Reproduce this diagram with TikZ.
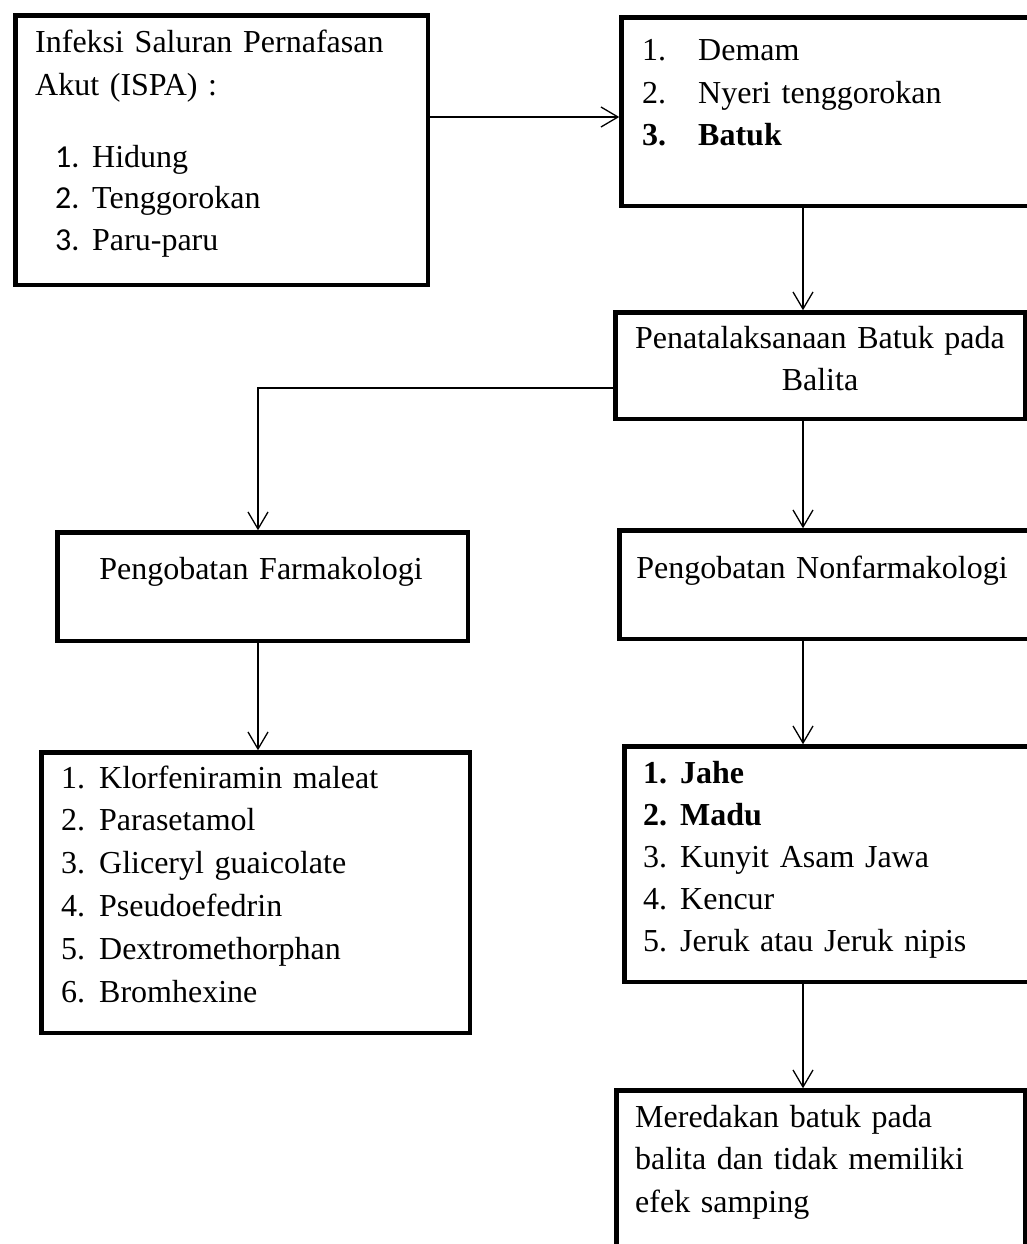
\documentclass[tikz,border=0pt]{standalone}
\usepackage{fontspec}
\setmainfont{Liberation Serif}
\newfontfamily\calibri{Carlito}
\usetikzlibrary{arrows.meta}

\tikzset{
	kotak/.style={draw, line width=4.5pt, anchor=north west, inner sep=0pt},
	teks/.style={inner sep=0pt, anchor=base west, text width=#1, align=left},
	teks/.default=380pt,
	tengah/.style={inner sep=0pt, anchor=base, text width=400pt, align=center},
	panah/.style={line width=1.3pt, -{Straight Barb[length=17pt,width=20pt,line width=1.3pt]}}
}

\begin{document}
\begin{tikzpicture}[x=1pt, y=-1pt, font=\fontsize{32pt}{42.5pt}\selectfont]
	\useasboundingbox (0,0) rectangle (1027,1244);
	\clip (0,0) rectangle (1027,1244);

%	titik bantu untuk garis panah
	\coordinate (p1) at (0,117);
	\coordinate (p2) at (803,0);
	\coordinate (p3) at (258,388);

%	kotak
	\node[kotak, minimum width=412.5pt, minimum height=269.5pt] (ispa) at (13.25,13.25) {};
	\node[kotak, minimum width=440pt, minimum height=188.5pt] (gejala) at (619.25,15.25) {};
	\node[kotak, minimum width=409.5pt, minimum height=106.5pt] (tata) at (613.25,310.25) {};
	\node[kotak, minimum width=410.5pt, minimum height=108.5pt] (farmako) at (55.25,530.25) {};
	\node[kotak, minimum width=440pt, minimum height=108.5pt] (nonfarmako) at (617.25,528.25) {};
	\node[kotak, minimum width=428.5pt, minimum height=280.5pt] (obat) at (39.25,750.25) {};
	\node[kotak, minimum width=440pt, minimum height=235.5pt] (herbal) at (622.25,744.25) {};
	\node[kotak, minimum width=408.5pt, minimum height=200pt] (hasil) at (614.25,1088.25) {};

%	isi kotak
	\node[teks] (ispa-judul) at (35,53) {Infeksi Saluran Pernafasan\\Akut (ISPA) :};
	\node[teks, font=\fontsize{32pt}{41.5pt}\selectfont] (ispa-daftar) at (55,167) {\makebox[37pt][l]{\calibri 1.}Hidung\\
		\makebox[37pt][l]{\calibri 2.}Tenggorokan\\
		\makebox[37pt][l]{\calibri 3.}Paru-paru};
	\node[teks] (gejala-daftar) at (642,61) {\makebox[56pt][l]{1.}Demam\\
		\makebox[56pt][l]{2.}Nyeri tenggorokan\\
		\textbf{\makebox[56pt][l]{3.}Batuk}};
	\node[tengah] (tata-teks) at (820,348) {Penatalaksanaan Batuk pada\\Balita};
	\node[tengah] (farmako-teks) at (261,579) {Pengobatan Farmakologi};
	\node[tengah] (nonfarmako-teks) at (822,578) {Pengobatan Nonfarmakologi};
	\node[teks, font=\fontsize{32pt}{42.8pt}\selectfont] (obat-daftar) at (61,788) {\makebox[38pt][l]{1.}Klorfeniramin maleat\\
		\makebox[38pt][l]{2.}Parasetamol\\
		\makebox[38pt][l]{3.}Gliceryl guaicolate\\
		\makebox[38pt][l]{4.}Pseudoefedrin\\
		\makebox[38pt][l]{5.}Dextromethorphan\\
		\makebox[38pt][l]{6.}Bromhexine};
	\node[teks, font=\fontsize{32pt}{42pt}\selectfont] (herbal-daftar) at (643,783) {\textbf{\makebox[37pt][l]{1.}Jahe}\\
		\textbf{\makebox[37pt][l]{2.}Madu}\\
		\makebox[37pt][l]{3.}Kunyit Asam Jawa\\
		\makebox[37pt][l]{4.}Kencur\\
		\makebox[37pt][l]{5.}Jeruk atau Jeruk nipis};
	\node[teks] (hasil-teks) at (635,1127) {Meredakan batuk pada\\balita dan tidak memiliki\\efek samping};

%	panah
	\draw[panah] (ispa.east |- p1) -- (gejala.west |- p1);
	\draw[panah] (gejala.south -| p2) -- (tata.north -| p2);
	\draw[panah] (tata.west |- p3) -| (farmako.north -| p3);
	\draw[panah] (tata.south -| p2) -- (nonfarmako.north -| p2);
	\draw[panah] (farmako.south -| p3) -- (obat.north -| p3);
	\draw[panah] (nonfarmako.south -| p2) -- (herbal.north -| p2);
	\draw[panah] (herbal.south -| p2) -- (hasil.north -| p2);
\end{tikzpicture}
\end{document}
